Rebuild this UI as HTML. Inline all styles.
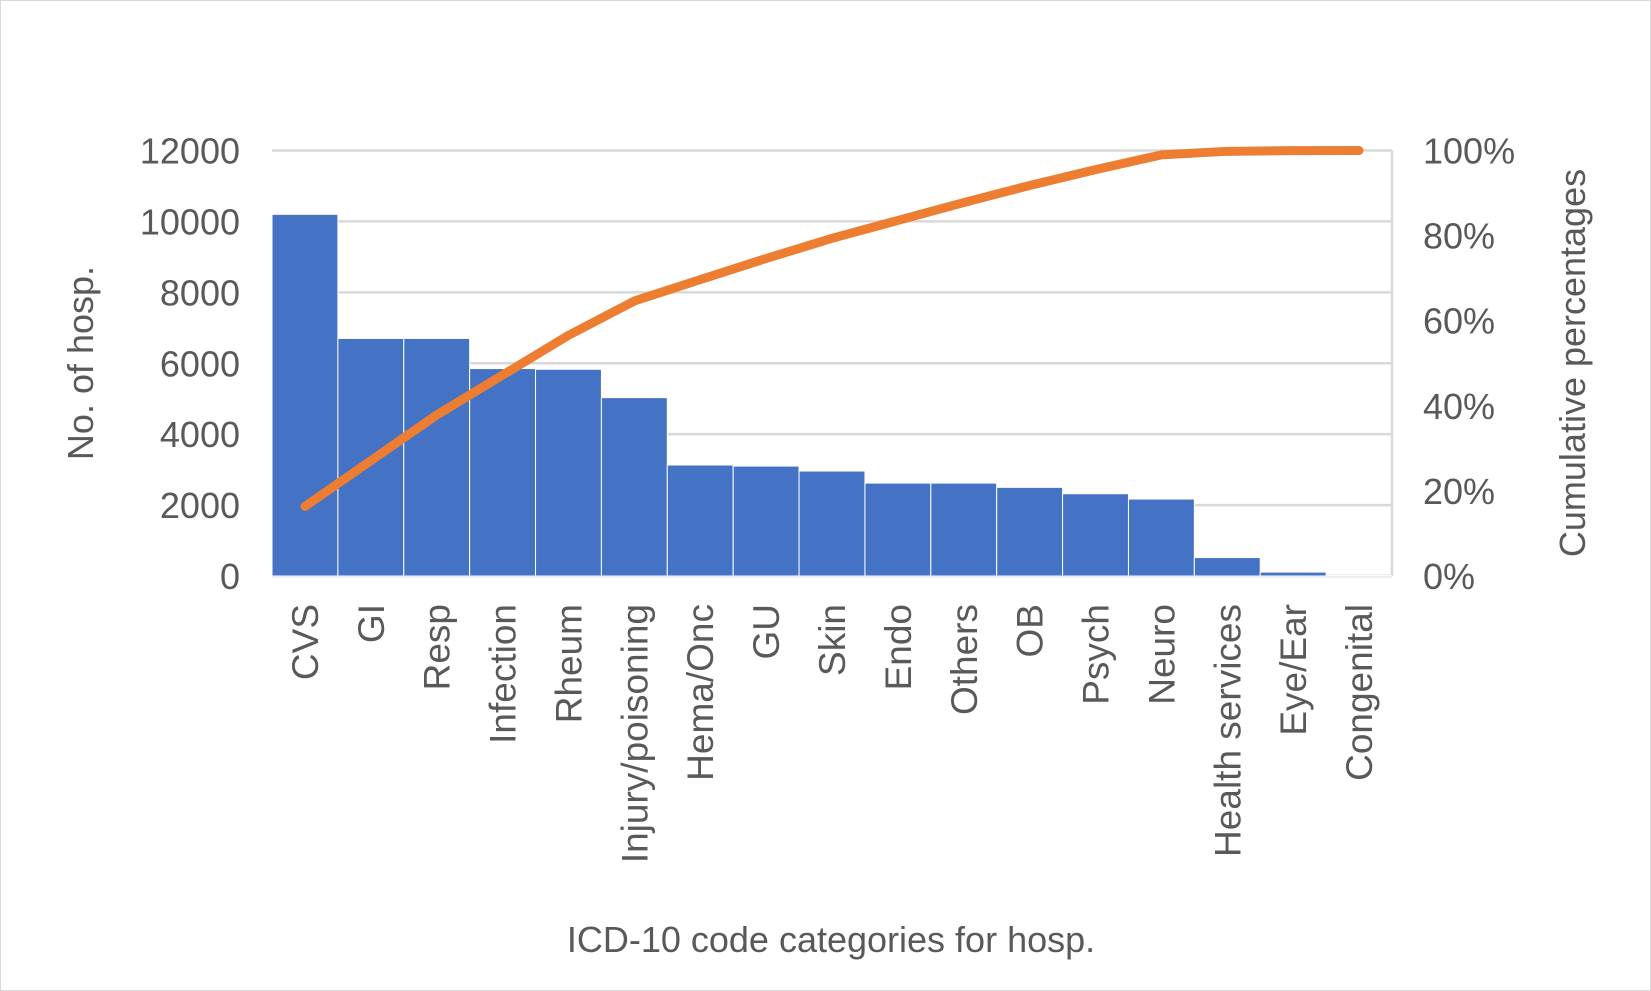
<!DOCTYPE html>
<html><head><meta charset="utf-8"><style>
html,body{margin:0;padding:0;background:#fff;}
svg{display:block;font-family:"Liberation Sans",sans-serif;}
</style></head><body>
<svg id="chart" width="1651" height="991" viewBox="0 0 1651 991" xmlns="http://www.w3.org/2000/svg">
<rect x="0.5" y="0.5" width="1650" height="990" fill="#fff" stroke="#d9d9d9" stroke-width="1"/>
<g id="grid"></g><g id="bars"></g><g id="line"></g><g id="labels"></g>
<text transform="translate(93,363) rotate(-90)" text-anchor="middle" font-size="36" fill="#595959">No. of hosp.</text>
<text transform="translate(1585,363) rotate(-90)" text-anchor="middle" font-size="36" fill="#595959">Cumulative percentages</text>
<text x="831" y="952" text-anchor="middle" font-size="36" fill="#595959">ICD-10 code categories for hosp.</text>
</svg>
<script>
const categories=["CVS","GI","Resp","Infection","Rheum","Injury/poisoning","Hema/Onc","GU","Skin","Endo","Others","OB","Psych","Neuro","Health services","Eye/Ear","Congenital"];
const counts=[10200,6700,6700,5850,5830,5030,3130,3100,2960,2620,2620,2500,2320,2170,520,110,10];
const leftTicks=[0,2000,4000,6000,8000,10000,12000];
const rightTicks=["0%","20%","40%","60%","80%","100%"];
const NS="http://www.w3.org/2000/svg";
const X0=272,X1=1392,Y0=576,Y1=150.5,YMAX=12000;
const bw=(X1-X0)/categories.length;
const y=v=>Y0-(v/YMAX)*(Y0-Y1);
const yp=p=>Y0-p*(Y0-Y1);
const xc=i=>X0+bw*(i+0.5);
function mk(tag,attrs,parent){const e=document.createElementNS(NS,tag);for(const k in attrs)e.setAttribute(k,attrs[k]);document.getElementById(parent).appendChild(e);return e;}
leftTicks.forEach(t=>{
 const g=mk('line',{x1:X0,x2:X1,y1:y(t),y2:y(t),stroke:'#d9d9d9','stroke-width':2.5},'grid');
 
 
 const l=mk('text',{x:240,y:y(t)+13,'text-anchor':'end','font-size':36,fill:'#595959'},'labels');
 l.textContent=t;
 
 
});
rightTicks.forEach((t,i)=>{
 const l=mk('text',{x:1423,y:yp(i/(rightTicks.length-1))+13,'font-size':36,fill:'#595959'},'labels');
 l.textContent=t;
 
 
});
const vl=mk('line',{x1:X1,x2:X1,y1:Y1,y2:Y0,stroke:'#d9d9d9','stroke-width':2.5},'grid');


const total=counts.reduce((a,b)=>a+b,0);
let cum=0;const pts=[];
counts.forEach((v,i)=>{
 const r=mk('rect',{x:X0+bw*i,y:y(v),width:bw,height:Y0-y(v),fill:'#4472c4',stroke:'#fff','stroke-width':1},'bars');
 
 
 cum+=v;pts.push(xc(i)+','+yp(cum/total));
 const l=mk('text',{transform:`translate(${xc(i)+13},604) rotate(-90)`,'text-anchor':'end','font-size':37,fill:'#595959'},'labels');
 l.textContent=categories[i];
 
 
});
const bl=mk('line',{x1:X0,x2:X1,y1:Y0,y2:Y0,stroke:'#d9d9d9','stroke-width':2.5},'grid');


const pl=mk('polyline',{points:pts.join(' '),fill:'none',stroke:'#ed7d31','stroke-width':9,'stroke-linecap':'round','stroke-linejoin':'round'},'line');


</script>
</body></html>
